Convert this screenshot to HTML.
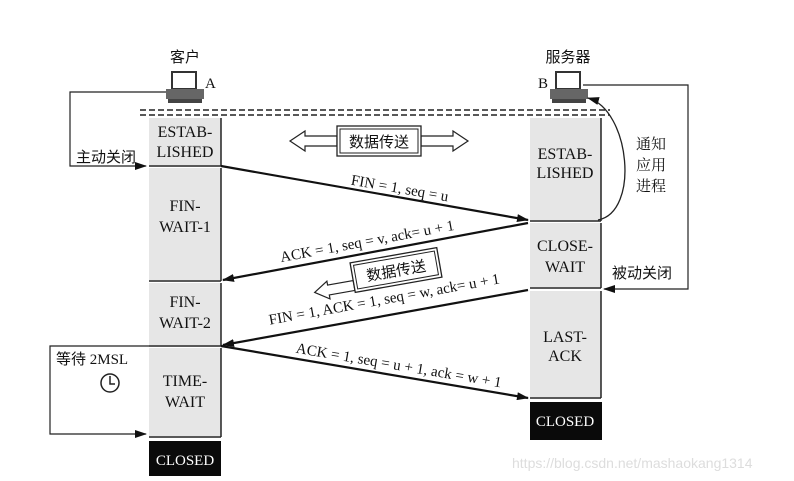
<!DOCTYPE html>
<html><head><meta charset="utf-8"><style>
html,body{margin:0;padding:0;background:#fff;}
svg{display:block;}
text{font-family:"Liberation Serif","Noto Serif CJK SC",serif;fill:#111;}
.cn{font-family:"Liberation Serif","Noto Sans CJK SC",sans-serif;}
</style></head><body>
<svg width="794" height="481" viewBox="0 0 794 481" xmlns="http://www.w3.org/2000/svg">
<defs>
<marker id="ah" markerWidth="12" markerHeight="8" refX="11" refY="4" orient="auto" markerUnits="userSpaceOnUse">
<path d="M0,0 L12,4 L0,8 Z" fill="#111"/></marker>
</defs>
<line x1="140" y1="110" x2="610" y2="110" stroke="#222" stroke-width="1.5" stroke-dasharray="6,3"/>
<line x1="140" y1="115" x2="610" y2="115" stroke="#222" stroke-width="1.5" stroke-dasharray="6,3"/>
<g fill="#e6e6e6" stroke="none">
<rect x="149" y="118" width="72" height="47"/>
<rect x="149" y="168" width="72" height="112"/>
<rect x="149" y="283" width="72" height="62"/>
<rect x="149" y="348" width="72" height="88"/>
<rect x="530" y="118" width="71" height="102"/>
<rect x="530" y="223" width="71" height="64"/>
<rect x="530" y="291" width="71" height="106"/>
</g>
<g stroke="#222" stroke-width="1.5">
<line x1="221" y1="118" x2="221" y2="166"/><line x1="149" y1="166" x2="221" y2="166"/>
<line x1="221" y1="168" x2="221" y2="281"/><line x1="149" y1="281" x2="221" y2="281"/>
<line x1="221" y1="283" x2="221" y2="346"/><line x1="149" y1="346" x2="221" y2="346"/>
<line x1="221" y1="348" x2="221" y2="437"/><line x1="149" y1="437" x2="221" y2="437"/>
<line x1="601" y1="118" x2="601" y2="221"/><line x1="530" y1="221" x2="601" y2="221"/>
<line x1="601" y1="223" x2="601" y2="288"/><line x1="530" y1="288" x2="601" y2="288"/>
<line x1="601" y1="291" x2="601" y2="398"/><line x1="530" y1="398" x2="601" y2="398"/>
</g>
<rect x="149" y="441" width="72" height="35" fill="#0a0a0a"/>
<rect x="530" y="402" width="72" height="38" fill="#0a0a0a"/>
<g font-size="16" text-anchor="middle">
<text x="185" y="137">ESTAB-</text><text x="185" y="157">LISHED</text>
<text x="185" y="211">FIN-</text><text x="185" y="232">WAIT-1</text>
<text x="185" y="307">FIN-</text><text x="185" y="328">WAIT-2</text>
<text x="185" y="386">TIME-</text><text x="185" y="407">WAIT</text>
<text x="185" y="465" style="fill:#fff" font-size="15">CLOSED</text>
<text x="565" y="159">ESTAB-</text><text x="565" y="178">LISHED</text>
<text x="565" y="251">CLOSE-</text><text x="565" y="272">WAIT</text>
<text x="565" y="342">LAST-</text><text x="565" y="361">ACK</text>
<text x="565" y="426" style="fill:#fff" font-size="15">CLOSED</text>
</g>
<g>
<rect x="172" y="72" width="24" height="17" fill="#fff" stroke="#333" stroke-width="2"/>
<rect x="166" y="89" width="38" height="10" fill="#666"/>
<rect x="168" y="99" width="34" height="4" fill="#444"/>
<rect x="556" y="72" width="24" height="17" fill="#fff" stroke="#333" stroke-width="2"/>
<rect x="550" y="89" width="38" height="10" fill="#666"/>
<rect x="552" y="99" width="34" height="4" fill="#444"/>
</g>
<text x="185" y="62" font-size="15" text-anchor="middle" class="cn">客户</text>
<text x="205" y="88" font-size="15">A</text>
<text x="568" y="62" font-size="15" text-anchor="middle" class="cn">服务器</text>
<text x="538" y="88" font-size="15">B</text>
<polyline points="166,92 70,92 70,166 146,166" fill="none" stroke="#222" stroke-width="1.2" marker-end="url(#ah)"/>
<text x="76" y="162" font-size="15" class="cn">主动关闭</text>
<polyline points="149,346 50,346 50,434 146,434" fill="none" stroke="#222" stroke-width="1.2" marker-end="url(#ah)"/>
<text x="56" y="364" font-size="15" class="cn">等待 2MSL</text>
<circle cx="110" cy="383" r="9" fill="#fff" stroke="#222" stroke-width="1.5"/>
<polyline points="110,376 110,384 115,384" fill="none" stroke="#222" stroke-width="1.5"/>
<polyline points="583,85 688,85 688,289 604,289" fill="none" stroke="#222" stroke-width="1.2" marker-end="url(#ah)"/>
<text x="612" y="278" font-size="15" class="cn">被动关闭</text>
<path d="M598,220 C640,212 630,110 588,98" fill="none" stroke="#222" stroke-width="1.3" marker-end="url(#ah)"/>
<g font-size="15" class="cn"><text x="636" y="149">通知</text><text x="636" y="170">应用</text><text x="636" y="191">进程</text></g>
<path d="M290,141 L305,131 L305,136 L337,136 L337,146 L305,146 L305,151 Z" fill="#fff" stroke="#222" stroke-width="1.2"/>
<path d="M468,141 L453,131 L453,136 L421,136 L421,146 L453,146 L453,151 Z" fill="#fff" stroke="#222" stroke-width="1.2"/>
<rect x="337" y="126" width="84" height="30" fill="#fff" stroke="#222" stroke-width="1.3"/>
<rect x="340" y="129" width="78" height="24" fill="none" stroke="#222" stroke-width="1"/>
<text x="379" y="147" font-size="15" text-anchor="middle" class="cn">数据传送</text>
<g stroke="#111" stroke-width="2.2" marker-end="url(#ah)">
<line x1="221" y1="166" x2="528" y2="220"/>
<line x1="528" y1="223" x2="223" y2="280"/>
<line x1="528" y1="290" x2="223" y2="345"/>
<line x1="221" y1="346" x2="528" y2="398"/>
</g>
<g font-size="15" text-anchor="middle">
<text transform="translate(399,193) rotate(9.9)">FIN = 1, seq = u</text>
<text transform="translate(368,246) rotate(-10.5)">ACK = 1, seq = v, ack= u + 1</text>
<text transform="translate(385,304) rotate(-10.2)">FIN = 1, ACK = 1, seq = w, ack= u + 1</text>
<text transform="translate(398,370) rotate(9.6)">ACK = 1, seq = u + 1, ack = w + 1</text>
</g>
<g transform="translate(396,270) rotate(-10)">
<path d="M-84,8 L-70,-1 L-70,3 L-44,3 L-44,13 L-70,13 L-70,17 Z" fill="#fff" stroke="#222" stroke-width="1.2"/>
<rect x="-44" y="-15" width="88" height="30" fill="#fff" stroke="#222" stroke-width="1.3"/>
<rect x="-41" y="-12" width="82" height="24" fill="none" stroke="#222" stroke-width="1"/>
<text x="0" y="6" font-size="15" text-anchor="middle" class="cn">数据传送</text>
</g>
<text x="512" y="468" font-size="14" style="fill:#ddd;font-family:'Liberation Sans',sans-serif">https://blog.csdn.net/mashaokang1314</text>
</svg>
</body></html>
